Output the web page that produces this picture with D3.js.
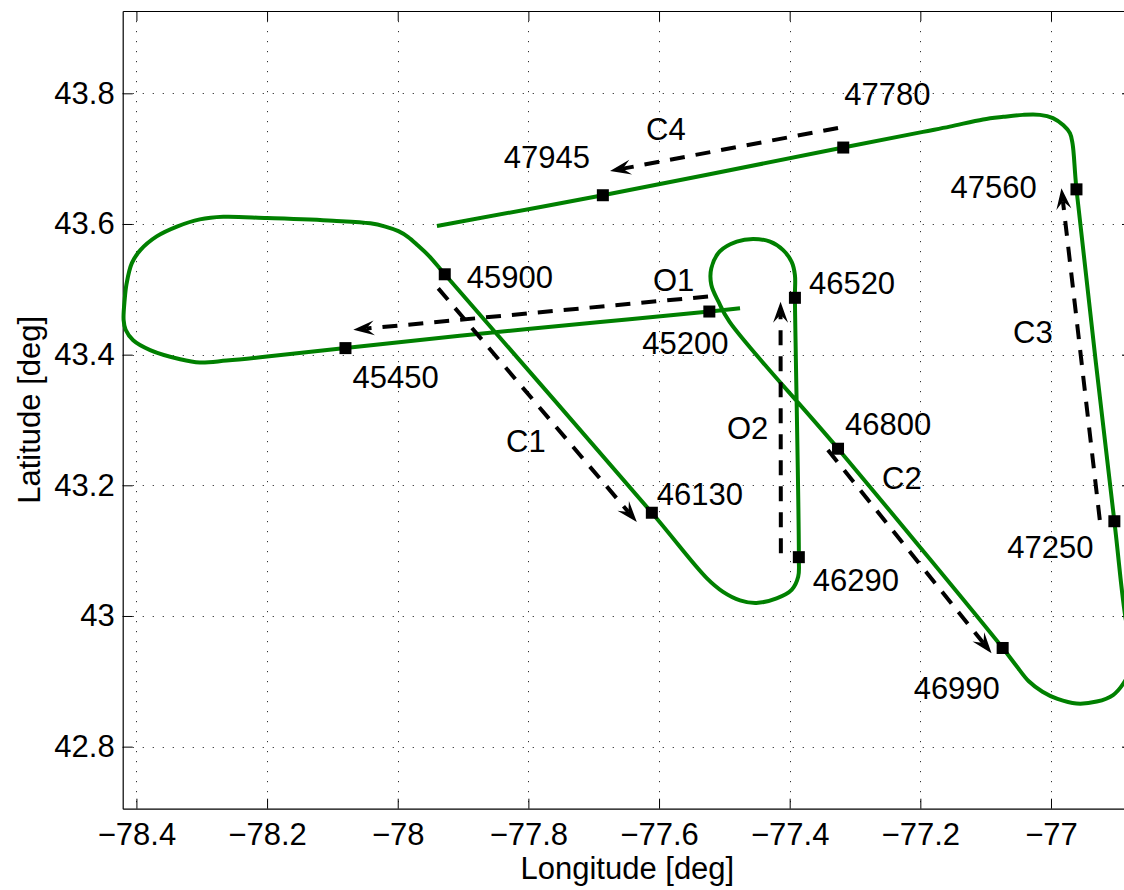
<!DOCTYPE html>
<html>
<head>
<meta charset="utf-8">
<script src="https://cdn.jsdelivr.net/npm/d3@7"></script>
<style>
  html, body { margin: 0; padding: 0; background: #fff; }
  svg { display: block; font-family: "Liberation Sans", Arial, Helvetica, sans-serif; }
</style>
</head>
<body>
<svg id="chart" width="1124" height="890"></svg>
<script>
// flight track (lon/lat, degrees), in time order
const trackLon = [-77.476, -77.523, -77.690, -77.905, -78.080, -78.200, -78.262, -78.303, -78.333, -78.379,
  -78.405, -78.4165, -78.4196, -78.418, -78.415, -78.407, -78.394, -78.369, -78.338, -78.303,
  -78.267, -78.200, -78.099, -78.042, -78.019, -77.999, -77.984, -77.969, -77.953, -77.928,
  -77.611, -77.527, -77.502, -77.476, -77.451, -77.420, -77.397, -77.387, -77.386, -77.392,
  -77.392, -77.397, -77.410, -77.430, -77.456, -77.481, -77.507, -77.520, -77.520, -77.509,
  -77.492, -77.326, -77.074, -77.054, -77.034, -77.013, -76.990, -76.961, -76.930, -76.905,
  -76.889, -76.876, -76.875, -76.884, -76.903, -76.961, -76.967, -76.971, -76.981, -76.997,
  -77.017, -77.043, -77.073, -77.104, -77.155, -77.196, -77.318, -77.686, -77.940];
const trackLat = [43.471, 43.466, 43.450, 43.429, 43.410, 43.397, 43.391, 43.388, 43.393, 43.407,
  43.422, 43.438, 43.453, 43.484, 43.509, 43.540, 43.560, 43.581, 43.596, 43.607,
  43.611, 43.609, 43.605, 43.601, 43.596, 43.589, 43.580, 43.567, 43.552, 43.523,
  43.158, 43.058, 43.037, 43.024, 43.020, 43.027, 43.040, 43.060, 43.090, 43.487,
  43.522, 43.542, 43.560, 43.573, 43.577, 43.573, 43.558, 43.532, 43.507, 43.481,
  43.450, 43.256, 42.951, 42.925, 42.900, 42.884, 42.873, 42.866, 42.869, 42.879,
  42.897, 42.925, 42.955, 42.986, 43.145, 43.653, 43.723, 43.739, 43.751, 43.762,
  43.767, 43.767, 43.764, 43.760, 43.749, 43.741, 43.717, 43.644, 43.597];

// time stamps marked on the track
const markerTime = [45200, 45450, 45900, 46130, 46290, 46520, 46800, 46990, 47250, 47560, 47780, 47945];
const markerLon = [-77.523, -78.080, -77.928, -77.611, -77.386, -77.392, -77.326, -77.074, -76.903, -76.961, -77.318, -77.686];
const markerLat = [43.466, 43.410, 43.523, 43.158, 43.090, 43.487, 43.256, 42.951, 43.145, 43.653, 43.717, 43.644];

// direction arrows for the legs
const legName = ["C4", "O1", "C1", "O2", "C2", "C3"];
const legLon0 = [-77.326, -77.525, -77.938, -77.4135, -77.3415, -76.9253];
const legLat0 = [43.747, 43.489, 43.5015, 43.096, 43.254, 43.147];
const legLon1 = [-77.675, -78.068, -77.634, -77.414, -77.091, -76.984];
const legLat1 = [43.681, 43.438, 43.144, 43.481, 42.943, 43.6546];

const xTicks = [-78.4, -78.2, -78, -77.8, -77.6, -77.4, -77.2, -77];
const yTicks = [42.8, 43, 43.2, 43.4, 43.6, 43.8];

// label placement (pixels) relative to each marker / absolute for leg names
const markerLabelOffset = [[-67, 42], [7, 40], [22, 14], [5, -8], [14, 34], [14, -4],
  [7, -14], [-89, 51], [-107, 37], [-126, 9], [1, -43], [-99, -27]];
const legLabelPos = [[646, 140], [653, 291], [506, 452], [727, 439], [882, 489], [1013, 343]];

const svg = d3.select("#chart");
const plot = { left: 122.7, right: 1132, top: 11, bottom: 808.7 };
const fontSize = 31;
const green = "#008000";

const x = d3.scaleLinear().domain([-78.421, -76.876]).range([plot.left, plot.right]);
const y = d3.scaleLinear().domain([42.705, 43.926]).range([plot.bottom, plot.top]);

const fmt = v => (v < 0 ? "\u2212" : "") + d3.format("")(Math.abs(+v.toFixed(1)));

// grid
const grid = svg.append("g").attr("stroke", "#333").attr("stroke-width", 1).attr("stroke-dasharray", "1.2,8.8");
grid.selectAll(".gx").data(xTicks).enter().append("line")
  .attr("x1", d => Math.round(x(d)) + 0.5).attr("x2", d => Math.round(x(d)) + 0.5)
  .attr("y1", plot.top).attr("y2", plot.bottom);
grid.selectAll(".gy").data(yTicks).enter().append("line")
  .attr("y1", d => Math.round(y(d)) + 0.5).attr("y2", d => Math.round(y(d)) + 0.5)
  .attr("x1", plot.left).attr("x2", plot.right);

// axes (ticks pointing inward, box)
const tickLen = 10;
const xAxis = svg.append("g").attr("transform", `translate(0,${plot.bottom})`)
  .call(d3.axisBottom(x).tickValues(xTicks).tickSizeInner(-tickLen).tickSizeOuter(0).tickPadding(14).tickFormat(fmt));
const yAxis = svg.append("g").attr("transform", `translate(${plot.left},0)`)
  .call(d3.axisLeft(y).tickValues(yTicks).tickSizeInner(-tickLen).tickSizeOuter(0).tickPadding(8).tickFormat(fmt));
svg.append("g").attr("transform", `translate(0,${plot.top})`)
  .call(d3.axisTop(x).tickValues(xTicks).tickSizeInner(-tickLen).tickSizeOuter(0).tickFormat(""));
svg.append("g").attr("transform", `translate(${plot.right},0)`)
  .call(d3.axisRight(y).tickValues(yTicks).tickSizeInner(-tickLen).tickSizeOuter(0).tickFormat(""));
svg.selectAll(".domain").attr("stroke", "#000").attr("stroke-width", 1.2);
svg.selectAll(".tick line").attr("stroke", "#000").attr("stroke-width", 1);
svg.selectAll(".tick text").attr("font-size", fontSize).attr("font-family", "Liberation Sans, Arial, sans-serif").attr("fill", "#000");
xAxis.selectAll(".tick text").attr("dy", "0.71em");

svg.append("text").attr("x", (plot.left + plot.right) / 2).attr("y", 879)
  .attr("text-anchor", "middle").attr("font-size", fontSize).text("Longitude [deg]");
svg.append("text").attr("transform", `translate(40,${(plot.top + plot.bottom) / 2}) rotate(-90)`)
  .attr("text-anchor", "middle").attr("font-size", fontSize).text("Latitude [deg]");

// flight track
const track = d3.range(trackLon.length).map(i => [trackLon[i], trackLat[i]]);
svg.append("path").datum(track)
  .attr("fill", "none").attr("stroke", green).attr("stroke-width", 4).attr("stroke-linejoin", "round")
  .attr("d", d3.line().x(d => x(d[0])).y(d => y(d[1])).curve(d3.curveCatmullRom.alpha(0.5)));

// leg arrows
const arrowLen = 21, arrowHalf = 7.5, arrowNotch = 13;
const legs = d3.range(legName.length).map(i => {
  const x0 = x(legLon0[i]), y0 = y(legLat0[i]), x1 = x(legLon1[i]), y1 = y(legLat1[i]);
  const ang = Math.atan2(y1 - y0, x1 - x0);
  return { x0, y0, x1, y1, ang };
});
svg.selectAll(".leg").data(legs).enter().append("line")
  .attr("x1", d => d.x0).attr("y1", d => d.y0)
  .attr("x2", d => d.x1 - Math.cos(d.ang) * arrowNotch).attr("y2", d => d.y1 - Math.sin(d.ang) * arrowNotch)
  .attr("stroke", "#000").attr("stroke-width", 4).attr("stroke-dasharray", "15,11");
svg.selectAll(".head").data(legs).enter().append("path")
  .attr("transform", d => `translate(${d.x1},${d.y1}) rotate(${d.ang * 180 / Math.PI})`)
  .attr("d", `M0,0 L${-arrowLen},${-arrowHalf} L${-arrowNotch},0 L${-arrowLen},${arrowHalf} Z`)
  .attr("fill", "#000");

// time stamp markers
const ms = 12;
svg.selectAll(".mk").data(markerTime).enter().append("rect")
  .attr("x", (d, i) => x(markerLon[i]) - ms / 2).attr("y", (d, i) => y(markerLat[i]) - ms / 2)
  .attr("width", ms).attr("height", ms).attr("fill", "#000");
svg.selectAll(".mklab").data(markerTime).enter().append("text")
  .attr("x", (d, i) => x(markerLon[i]) + markerLabelOffset[i][0])
  .attr("y", (d, i) => y(markerLat[i]) + markerLabelOffset[i][1])
  .attr("font-size", fontSize).attr("fill", "#000").text(d => d);

svg.selectAll(".leglab").data(legName).enter().append("text")
  .attr("x", (d, i) => legLabelPos[i][0]).attr("y", (d, i) => legLabelPos[i][1])
  .attr("font-size", fontSize).attr("fill", "#000").text(d => d);
</script>
</body>
</html>
